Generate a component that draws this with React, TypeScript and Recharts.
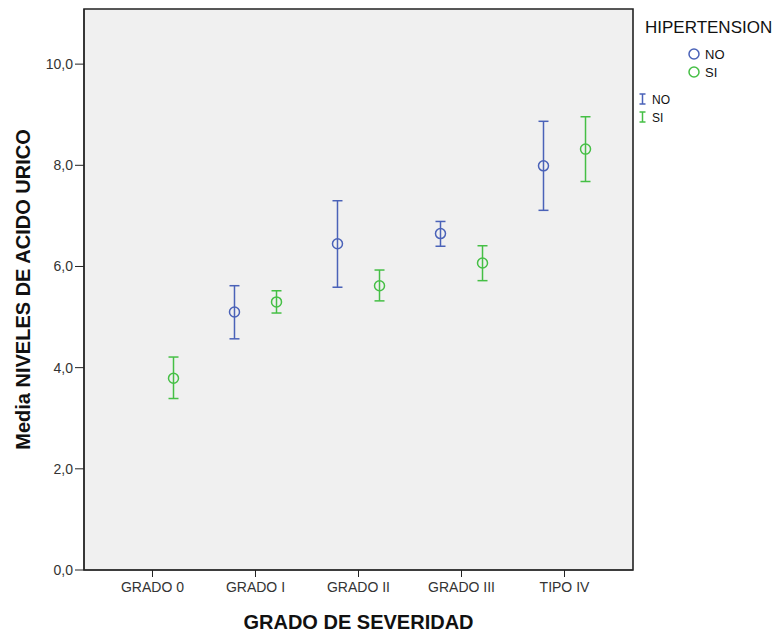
import {
  ComposedChart,
  Scatter,
  ErrorBar,
  XAxis,
  YAxis,
  ReferenceArea,
} from "recharts";

const categories = ["GRADO 0", "GRADO I", "GRADO II", "GRADO III", "TIPO IV"];

// HIPERTENSION = NO (no data for GRADO 0)
const noMean = [null, 5.1, 6.45, 6.65, 7.99];
const noLow = [null, 4.57, 5.59, 6.4, 7.11];
const noHigh = [null, 5.62, 7.3, 6.89, 8.87];

// HIPERTENSION = SI
const siMean = [3.79, 5.3, 5.62, 6.07, 8.32];
const siLow = [3.39, 5.08, 5.32, 5.72, 7.68];
const siHigh = [4.21, 5.52, 5.93, 6.41, 8.96];

const yTicks = [0, 2, 4, 6, 8, 10];

const BLUE = "#4a62b8";
const GREEN = "#45bf45";
const FONT = "'Liberation Sans', Arial, sans-serif";
const DODGE = 0.204;

function buildSeries(mean: (number | null)[], low: (number | null)[], high: (number | null)[], shift: number) {
  return mean
    .map((m, i) =>
      m == null
        ? null
        : { x: i + shift, y: m, err: [m - (low[i] as number), (high[i] as number) - m] }
    )
    .filter(Boolean) as { x: number; y: number; err: number[] }[];
}

const noData = buildSeries(noMean, noLow, noHigh, -DODGE);
const siData = buildSeries(siMean, siLow, siHigh, DODGE);

const ringShape = (color: string) => (props: any) => (
  <circle cx={props.cx} cy={props.cy} r={5} fill="none" stroke={color} strokeWidth={1.5} />
);

export default function App() {
  return (
    <div style={{ position: "absolute", left: 0, top: 0, width: 775, height: 634, background: "#fff", fontFamily: FONT }}>
      <ComposedChart width={775} height={634} margin={{ top: 9, right: 142, bottom: 0, left: 0 }}>
        <ReferenceArea
          x1={-0.665}
          x2={4.665}
          y1={0}
          y2={11.09}
          fill="#f0f0f0"
          fillOpacity={1}
          stroke="#222"
          strokeWidth={1.6}
        />
        <XAxis
          type="number"
          dataKey="x"
          domain={[-0.665, 4.665]}
          ticks={[0, 1, 2, 3, 4]}
          tickFormatter={(v: number) => categories[v]}
          allowDataOverflow
          height={64}
          tickSize={7}
          tickMargin={5}
          stroke="#222"
          tick={{ fill: "#333", fontSize: 14, fontFamily: FONT }}
          label={{
            value: "GRADO DE SEVERIDAD",
            position: "insideBottom",
            offset: 5,
            style: { fill: "#111", fontSize: 20, fontWeight: "bold", fontFamily: FONT },
          }}
        />
        <YAxis
          type="number"
          dataKey="y"
          domain={[0, 11.09]}
          ticks={yTicks}
          allowDataOverflow
          width={84}
          tickSize={9}
          tickMargin={2}
          stroke="#222"
          tickFormatter={(v: number) => v.toFixed(1).replace(".", ",")}
          tick={{ fill: "#333", fontSize: 14, fontFamily: FONT }}
          label={(props: any) => {
            const vb = props.viewBox;
            const cy = vb.y + vb.height / 2;
            return (
              <text
                x={23}
                y={cy}
                transform={`rotate(-90, 23, ${cy})`}
                textAnchor="middle"
                dominantBaseline="central"
                fill="#111"
                fontSize={20}
                fontWeight="bold"
                fontFamily={FONT}
              >
                Media NIVELES DE ACIDO URICO
              </text>
            );
          }}
        />
        <Scatter name="NO" data={noData} shape={ringShape(BLUE)} isAnimationActive={false}>
          <ErrorBar dataKey="err" direction="y" width={5} stroke={BLUE} strokeWidth={1.5} />
        </Scatter>
        <Scatter name="SI" data={siData} shape={ringShape(GREEN)} isAnimationActive={false}>
          <ErrorBar dataKey="err" direction="y" width={5} stroke={GREEN} strokeWidth={1.5} />
        </Scatter>
      </ComposedChart>

      <svg width={775} height={634} style={{ position: "absolute", left: 0, top: 0, pointerEvents: "none" }}>
        <text x={645} y={33} fontSize={17} fill="#111" fontFamily={FONT}>HIPERTENSION</text>
        <circle cx={694} cy={54} r={5} fill="none" stroke={BLUE} strokeWidth={1.5} />
        <text x={705} y={59} fontSize={13} fill="#111" fontFamily={FONT}>NO</text>
        <circle cx={694} cy={72} r={5} fill="none" stroke={GREEN} strokeWidth={1.5} />
        <text x={705} y={77} fontSize={13} fill="#111" fontFamily={FONT}>SI</text>
        <g stroke={BLUE} strokeWidth={1.5}>
          <line x1={642.5} y1={94} x2={642.5} y2={104} />
          <line x1={639.5} y1={94} x2={645.5} y2={94} />
          <line x1={639.5} y1={104} x2={645.5} y2={104} />
        </g>
        <text x={652} y={104} fontSize={12} fill="#111" fontFamily={FONT}>NO</text>
        <g stroke={GREEN} strokeWidth={1.5}>
          <line x1={642.5} y1={112} x2={642.5} y2={122} />
          <line x1={639.5} y1={112} x2={645.5} y2={112} />
          <line x1={639.5} y1={122} x2={645.5} y2={122} />
        </g>
        <text x={652} y={122} fontSize={12} fill="#111" fontFamily={FONT}>SI</text>
      </svg>
    </div>
  );
}
